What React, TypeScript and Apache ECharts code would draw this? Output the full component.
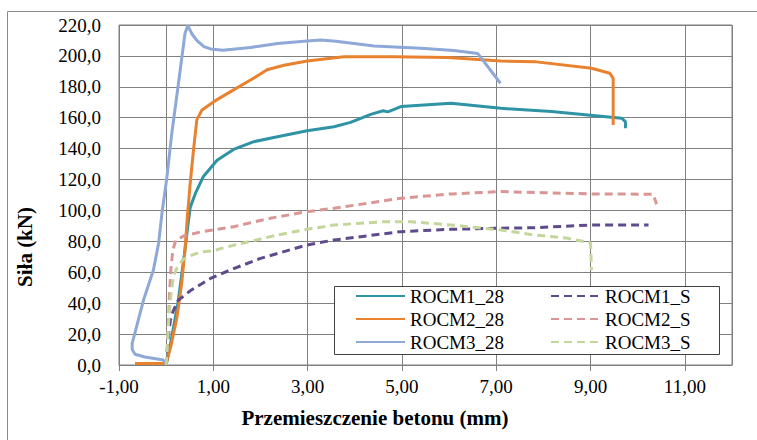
import React, { useEffect, useRef } from "react";
import * as echarts from "echarts";

const FONT = "'Liberation Serif', 'Times New Roman', serif";

const xTickMin = -1;
const xTickMax = 12;
const xTickStep = 2;
const yTickMin = 0;
const yTickMax = 220;
const yTickStep = 20;

const seriesNames = ["ROCM1_28", "ROCM2_28", "ROCM3_28", "ROCM1_S", "ROCM2_S", "ROCM3_S"];

const rocm1_28: number[][] = [
  [0, 0], [0.1, 15], [0.25, 40], [0.38, 70], [0.48, 95], [0.51, 102], [0.62, 111], [0.79, 122],
  [1.08, 132.5], [1.43, 139.5], [1.86, 144.5], [2.36, 147.7], [2.99, 151.6], [3.56, 154.2],
  [3.91, 157], [4.34, 162.2], [4.6, 164.5], [4.7, 163.8], [4.98, 167.2], [6.04, 169.3],
  [7.1, 166.1], [8.17, 164], [9.66, 159.7], [9.74, 157.5], [9.74, 153.2],
];

const rocm2_28: number[][] = [
  [-0.66, 1], [0, 1], [0.1, 12], [0.23, 31], [0.33, 53], [0.4, 74.4], [0.45, 96], [0.51, 117.6],
  [0.58, 139], [0.65, 158.6], [0.76, 165], [1.01, 170.4], [1.43, 178], [1.79, 184.4],
  [2.14, 191], [2.5, 194], [2.99, 196.7], [3.77, 199.5], [4.84, 199.5], [5.97, 199],
  [7.1, 196.7], [7.81, 196.3], [9.02, 192], [9.41, 188.8], [9.48, 185.5], [9.48, 155.3],
];

const rocm3_28: number[][] = [
  [0, 0.5], [-0.06, 3.2], [-0.45, 5.2], [-0.66, 7], [-0.72, 10], [-0.72, 14], [-0.6, 28],
  [-0.48, 42], [-0.27, 61.5], [-0.16, 78.8], [-0.09, 98], [0.01, 120], [0.12, 150],
  [0.26, 182], [0.4, 214.7], [0.46, 219.6], [0.55, 214], [0.65, 210], [0.8, 206],
  [0.94, 204.5], [1.2, 203.7], [1.79, 205.5], [2.36, 208], [2.99, 209.7], [3.28, 210.3],
  [3.6, 209.5], [4.41, 206.4], [5.4, 205], [6.1, 203.5], [6.61, 201.5], [7.09, 182.3],
];

const rocm1_s: number[][] = [
  [0, 0], [0.03, 12], [0.06, 22], [0.09, 29], [0.15, 35], [0.26, 42], [0.51, 48], [0.94, 56],
  [1.36, 61.5], [2.0, 69], [2.99, 77.7], [3.56, 80.9], [4.98, 86.3], [6.04, 87.8],
  [7.1, 88.5], [7.8, 88.8], [9.02, 90.6], [10.23, 90.6],
];

const rocm2_s: number[][] = [
  [0, 0], [0.04, 20], [0.07, 45], [0.1, 62], [0.14, 74], [0.2, 80.5], [0.37, 83.5],
  [0.72, 86], [1.43, 89.5], [2.21, 95], [2.99, 99.2], [3.56, 101.4], [4.98, 107.9],
  [6.04, 110.7], [7.1, 112.2], [8.0, 111.5], [9.02, 110.7], [10.33, 110.5], [10.4, 104],
];

const rocm3_s: number[][] = [
  [0, 0], [0.03, 15], [0.05, 27], [0.1, 45], [0.15, 57], [0.23, 63], [0.35, 68], [0.5, 70.5],
  [0.72, 73], [1.0, 74], [1.43, 77.5], [1.79, 80], [2.36, 84.1], [2.99, 87.8], [3.56, 90.6],
  [4.62, 92.7], [5.19, 92.7], [6.04, 90.6], [7.1, 87.4], [7.81, 84.1], [8.52, 82],
  [9.0, 79], [9.02, 61.5],
];

const seriesData = [rocm1_28, rocm2_28, rocm3_28, rocm1_s, rocm2_s, rocm3_s];
const seriesColors = ["#2F93A6", "#E8822E", "#8EA8D8", "#5F4B8B", "#D99694", "#C3D69B"];
const seriesDashed = [false, false, false, true, true, true];

const xTitle = "Przemieszczenie betonu (mm)";
const yTitle = "Siła (kN)";

export default function App() {
  const ref = useRef<HTMLDivElement>(null);
  useEffect(() => {
    if (!ref.current) return;
    const chart = echarts.init(ref.current, undefined, { renderer: "svg" });
    const series: any[] = seriesNames.map((name, i) => ({
      type: "line",
      name,
      data: seriesData[i],
      symbol: "none",
      showSymbol: false,
      smooth: false,
      lineStyle: {
        color: seriesColors[i],
        width: 3,
        type: seriesDashed[i] ? [8, 5] : "solid",
        cap: "butt",
      },
      itemStyle: { color: seriesColors[i] },
      z: 2,
    }));
    series[0].markLine = {
      silent: true,
      symbol: "none",
      label: { show: false },
      lineStyle: { color: "#808080", width: 1, type: "solid" },
      data: [{ xAxis: 0 }],
      z: 1,
    };
    const legendCommon = {
      orient: "vertical",
      top: 286,
      padding: 0,
      itemWidth: 49,
      itemHeight: 14,
      itemGap: 3,
      selectedMode: false,
      itemStyle: { opacity: 0 },
      textStyle: { fontFamily: FONT, fontSize: 19, color: "#000", lineHeight: 20 },
      z: 5,
    };
    chart.setOption({
      animation: false,
      backgroundColor: "#fff",
      grid: {
        left: 119,
        top: 25,
        right: 25,
        bottom: 75,
        show: true,
        borderColor: "#808080",
        borderWidth: 1,
        backgroundColor: "transparent",
      },
      xAxis: {
        type: "value",
        min: xTickMin,
        max: xTickMax,
        interval: xTickStep,
        axisLine: { show: true, onZero: false, lineStyle: { color: "#808080", width: 1 } },
        axisTick: { show: true, length: 6, lineStyle: { color: "#808080" } },
        splitLine: { show: true, lineStyle: { color: "#808080", width: 1 } },
        axisLabel: {
          showMaxLabel: false,
          margin: 12,
          fontFamily: FONT,
          fontSize: 19,
          color: "#000",
          formatter: (v: number) => v.toFixed(2).replace(".", ","),
        },
      },
      yAxis: {
        type: "value",
        min: yTickMin,
        max: yTickMax,
        interval: yTickStep,
        axisLine: { show: true, lineStyle: { color: "#808080", width: 1 } },
        axisTick: { show: false },
        splitLine: { show: true, lineStyle: { color: "#808080", width: 1 } },
        axisLabel: {
          margin: 18,
          fontFamily: FONT,
          fontSize: 19,
          color: "#000",
          formatter: (v: number) => v.toFixed(1).replace(".", ","),
        },
      },
      legend: [
        { ...legendCommon, left: 355, data: seriesNames.slice(0, 3) },
        { ...legendCommon, left: 550, data: seriesNames.slice(3, 6) },
      ],
      graphic: [
        {
          type: "rect",
          z: -1,
          silent: true,
          shape: { x: 7.5, y: 11.5, width: 780, height: 440 },
          style: { fill: "none", stroke: "#8a8a8a", lineWidth: 1 },
        },
        {
          type: "rect",
          z: 3,
          silent: true,
          shape: { x: 334.5, y: 286.5, width: 385, height: 68 },
          style: { fill: "#fff", stroke: "#404040", lineWidth: 1 },
        },
        {
          type: "text",
          x: 375,
          y: 418,
          silent: true,
          style: {
            text: xTitle,
            fontFamily: FONT,
            fontSize: 21,
            fontWeight: "bold",
            fill: "#000",
            align: "center",
            verticalAlign: "middle",
          },
        },
        {
          type: "text",
          x: 25,
          y: 247,
          rotation: Math.PI / 2,
          silent: true,
          style: {
            text: yTitle,
            fontFamily: FONT,
            fontSize: 21,
            fontWeight: "bold",
            fill: "#000",
            align: "center",
            verticalAlign: "middle",
          },
        },
      ],
      series,
    });
    return () => chart.dispose();
  }, []);
  return (
    <div
      ref={ref}
      style={{ position: "fixed", left: 0, top: 0, width: 757, height: 440 }}
    />
  );
}
